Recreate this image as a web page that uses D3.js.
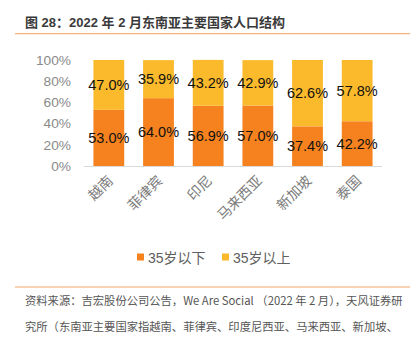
<!DOCTYPE html>
<html><head><meta charset="utf-8">
<script src="https://cdn.jsdelivr.net/npm/d3@7"></script>
<style>
html,body{margin:0;padding:0;background:#fff;}
svg{display:block;}
</style></head>
<body>
<svg id="c" width="410" height="338"></svg>
<script>
const categories = ["越南","菲律宾","印尼","马来西亚","新加坡","泰国"];
const under35 = [53.0, 64.0, 56.9, 57.0, 37.4, 42.2];
const over35 = [47.0, 35.9, 43.2, 42.9, 62.6, 57.8];
const seriesNames = ["35岁以下","35岁以上"];
const yTicks = [0,20,40,60,80,100];
const titleText = "图 28：2022 年 2 月东南亚主要国家人口结构";
const sourceLines = ["资料来源：吉宏股份公司公告，We Are Social （2022 年 2 月），天风证券研",
                     "究所（东南亚主要国家指越南、菲律宾、印度尼西亚、马来西亚、新加坡、"];

const colors = ["#F5821F","#FBBA2B"];
const fontLat = "'Liberation Sans', Arial, 'Noto Sans CJK SC', sans-serif";
const fontCJK = "'Noto Sans CJK SC', 'Liberation Sans', sans-serif";

const svg = d3.select("#c");
// title
svg.append("text").attr("x",25).attr("y",27).text(titleText)
  .attr("font-family",fontLat).attr("font-size",13).attr("font-weight","bold").attr("fill","#3a3a3a");
svg.append("line").attr("x1",15).attr("x2",410).attr("y1",33.7).attr("y2",33.7)
  .attr("stroke","#F7B47A").attr("stroke-width",1.2);

const x = d3.scaleBand().domain(categories).range([84,382]).paddingInner(0.38).paddingOuter(0.19);
const y = d3.scaleLinear().domain([0,100]).range([166,60]);

const data = categories.map((c,i)=>({cat:c, a:under35[i], b:over35[i]}));
const stack = d3.stack().keys(["a","b"])(data);

const g = svg.append("g");
stack.forEach((layer,li)=>{
  g.selectAll(null).data(layer).enter().append("rect")
    .attr("x",d=>x(d.data.cat)).attr("width",x.bandwidth())
    .attr("y",d=>y(d[1])).attr("height",d=>y(d[0])-y(d[1]))
    .attr("fill",colors[li]);
  g.selectAll(null).data(layer).enter().append("text")
    .attr("x",d=>x(d.data.cat)+x.bandwidth()/2)
    .attr("y",d=>(y(d[0])+y(d[1]))/2)
    .attr("dy","0.36em").attr("text-anchor","middle")
    .attr("font-family",fontLat).attr("font-size",14.5).attr("fill","#111")
    .text(d=>(d[1]-d[0]).toFixed(1)+"%");
});

// x axis line
svg.append("line").attr("x1",84).attr("x2",382).attr("y1",166.5).attr("y2",166.5)
  .attr("stroke","#d9d9d9").attr("stroke-width",1);

// y axis labels
const yAxis = d3.axisLeft(y).tickValues(yTicks).tickFormat(d=>d+"%").tickSize(0).tickPadding(0);
const ya = svg.append("g").attr("transform","translate(71,0)").call(yAxis);
ya.select(".domain").remove();
ya.selectAll("text").attr("font-family",fontLat).attr("font-size",13.7).attr("fill","#8a8a8a");

// x labels
const xAxis = d3.axisBottom(x).tickSize(0).tickPadding(0);
const xa = svg.append("g").attr("transform","translate(0,166)").call(xAxis);
xa.select(".domain").remove();
xa.selectAll("text")
  .attr("font-family",fontCJK).attr("font-size",14).attr("fill","#7a7a7a")
  .attr("text-anchor","end").attr("dy",null).attr("y",0)
  .attr("transform","translate(5,15.5) rotate(-45)");

// legend
const leg = svg.append("g");
const legX = [137, 222];
seriesNames.forEach((n,i)=>{
  leg.append("rect").attr("x",legX[i]).attr("y",253.5).attr("width",7).attr("height",7).attr("fill",colors[i]);
  leg.append("text").attr("x",legX[i]+11).attr("y",262.5).text(n)
    .attr("font-family",fontLat).attr("font-size",14).attr("fill","#606060");
});

// footer
svg.append("line").attr("x1",15).attr("x2",410).attr("y1",287).attr("y2",287)
  .attr("stroke","#F0A868").attr("stroke-width",1.2);
sourceLines.forEach((t,i)=>{
  svg.append("text").attr("x",25).attr("y",305+i*26).text(t)
    .attr("font-family",fontCJK).attr("font-size",11.3).attr("fill","#555");
});
</script>
</body></html>
